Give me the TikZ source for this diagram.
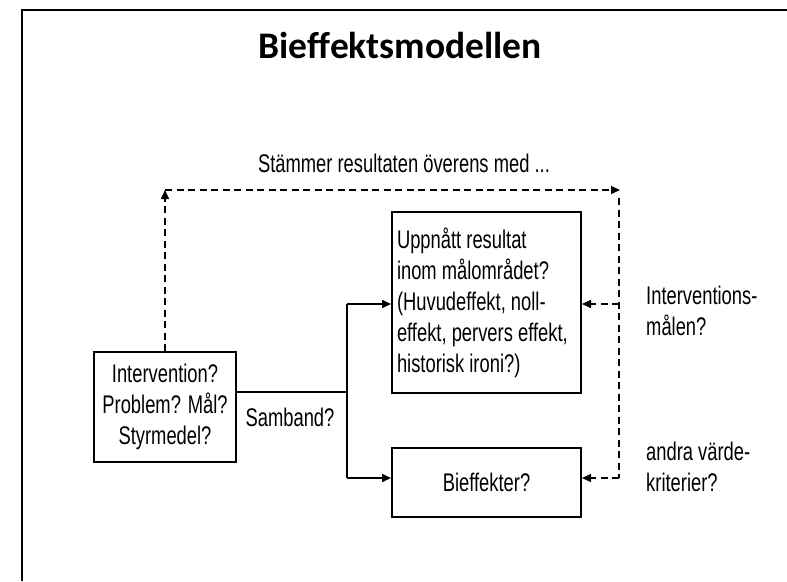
\documentclass[tikz,border=0pt]{standalone}
\usepackage{fontspec}
\newfontfamily\narrowsans{Liberation Sans}[FakeStretch=0.72]
\newfontfamily\titlefont{Carlito}[Ligatures=NoCommon]
\usetikzlibrary{arrows.meta,calc}
\begin{document}
\begin{tikzpicture}[x=1pt,y=-1pt,
  txt/.style={font=\narrowsans\fontsize{25.5}{31}\selectfont, inner sep=0pt},
  boxnode/.style={draw, line width=2pt, txt, minimum width=#1},
  conn/.style={line width=1.6pt},
  arr/.style={conn, -{Triangle[length=9pt,width=8pt]}},
  dconn/.style={line width=1.5pt, dash pattern=on 7pt off 4.5pt},
  darr/.style={dconn, -{Triangle[length=9pt,width=8pt]}}
]
\useasboundingbox (0,0) rectangle (787,581);
\fill[white] (0,0) rectangle (787,581);
% outer frame
\draw[line width=2pt] (787,10) -- (22,10) -- (22,581);

\node[font=\titlefont\bfseries\fontsize{37.5}{40}\selectfont, inner sep=0pt] (title) at (400,45) {Bief\kern0ptfektsmodellen};
\node[txt] (toplabel) at (404,163) {Stämmer resultaten överens med ...};

\node[boxnode=142pt, minimum height=110pt, align=center] (left) at (165,407)
  {Intervention?\\Problem? Mål?\\Styrmedel?};
\node[boxnode=189pt, minimum height=181pt, align=flush left, text width=179pt, inner xsep=5pt] (top) at (486.5,302.5)
  {Uppnått resultat\\inom målområdet?\\(Huvudeffekt, noll-\\effekt, pervers effekt,\\historisk ironi?)};
\node[boxnode=189pt, minimum height=69pt] (bot) at (486.5,482.5) {Bieffekter?};

\node[txt] (samband) at (290,417) {Samband?};
\node[txt, align=flush left, anchor=west] (intmal) at (646,311) {Interventions-\\målen?};
\node[txt, align=flush left, anchor=west] (andra) at (646,467) {andra värde-\\kriterier?};

% solid connectors
\coordinate (j) at (347,392);
\coordinate (ja) at (347,304);
\coordinate (jb) at (347,478);
\draw[conn] (j -| left.east) -- (j);
\draw[conn] (ja) -- (jb);
\draw[arr] (ja) -- (ja -| top.west);
\draw[arr] (jb) -- (jb -| bot.west);

% dashed connectors
\coordinate (c1) at (165,190);
\coordinate (c2) at (620,190);
\coordinate (c3) at (619,198);
\coordinate (r1) at (619,304);
\coordinate (r2) at (619,478);
\draw[darr] (left.north) -- (c1);
\draw[darr] (c1) -- (c2);
\draw[dconn] (c3) -- (r2);
\draw[darr] (r1) -- (r1 -| top.east);
\draw[darr] (r2) -- (r2 -| bot.east);
\end{tikzpicture}
\end{document}
